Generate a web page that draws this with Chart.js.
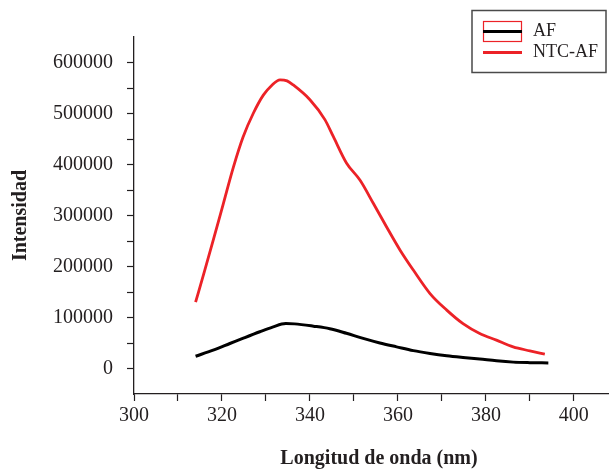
<!DOCTYPE html>
<html><head><meta charset="utf-8">
<script src="https://cdn.jsdelivr.net/npm/chart.js@4/dist/chart.umd.min.js"></script>
<style>html,body{margin:0;padding:0;background:#fff;overflow:hidden}#wrap{width:624px;height:469px;position:relative}</style>
</head><body><div id="wrap"><canvas id="c"></canvas></div>
<script>
const seriesLabels = ['AF', 'NTC-AF'];
const seriesColors = ['#000000', '#ec2227'];

const nmAF  = [314.0, 318.0, 321.8, 325.0, 328.6, 331.5, 334.5, 336.5, 340.8, 344.5, 348.3, 352.1, 355.9, 359.7, 363.5, 367.3, 371.1, 374.8, 378.6, 382.4, 386.2, 390.0, 394.2];
const intAF = [24000, 36000, 49000, 60000, 72000, 81000, 88000, 87500, 83000, 78000, 69000, 59000, 50000, 42400, 35000, 29500, 25000, 21600, 18500, 15000, 12500, 11500, 11000];

const nmNTC  = [314.0, 316.0, 318.0, 320.3, 322.6, 324.8, 327.1, 329.4, 331.3, 333.2, 334.8, 336.2, 340.0, 343.4, 345.3, 348.3, 351.4, 354.4, 357.4, 360.5, 363.5, 367.3, 371.1, 374.8, 378.6, 382.4, 386.2, 390.0, 393.4];
const intNTC = [130000, 190000, 251000, 323000, 395000, 454000, 500000, 536000, 555000, 566000, 564000, 556000, 527000, 488000, 455000, 403000, 369000, 324000, 278000, 232000, 193000, 147000, 114500, 88000, 68700, 55600, 42400, 34600, 28000];

const xTickValues = [300, 310, 320, 330, 340, 350, 360, 370, 380, 390, 400, 410];
const xLabelStep = 20;
const yTickValues = [0, 50000, 100000, 150000, 200000, 250000, 300000, 350000, 400000, 450000, 500000, 550000, 600000];
const yLabelStep = 100000;
const xTitle = 'Longitud de onda (nm)';
const yTitle = 'Intensidad';

const toPoints = (xs, ys) => xs.map((x, i) => ({x: x, y: ys[i]}));

const legendPlugin = {
  id: 'boxLegend',
  afterDraw(chart) {
    const ctx = chart.ctx;
    const ds = chart.data.datasets;
    ctx.save();
    ctx.strokeStyle = '#4a4a4a';
    ctx.lineWidth = 1.5;
    ctx.strokeRect(472, 10.5, 134, 62);
    ctx.strokeStyle = ds[1].borderColor;
    ctx.lineWidth = 1.2;
    ctx.strokeRect(483.5, 21.5, 38, 20);
    ctx.strokeStyle = ds[0].borderColor;
    ctx.lineWidth = 3;
    ctx.beginPath(); ctx.moveTo(483, 31.5); ctx.lineTo(522, 31.5); ctx.stroke();
    ctx.strokeStyle = ds[1].borderColor;
    ctx.beginPath(); ctx.moveTo(483, 52.5); ctx.lineTo(522, 52.5); ctx.stroke();
    ctx.fillStyle = '#231f20';
    ctx.font = '18px "Liberation Serif"';
    ctx.textBaseline = 'middle';
    ctx.textAlign = 'left';
    ctx.fillText(ds[0].label, 533, 31);
    ctx.fillText(ds[1].label, 533, 52);
    ctx.restore();
  }
};

const tickFont = {family: 'Liberation Serif', size: 20};
const titleFont = {family: 'Liberation Serif', size: 20, weight: 'bold'};

new Chart(document.getElementById('c'), {
  type: 'line',
  data: {
    datasets: [
      {label: seriesLabels[0], data: toPoints(nmAF, intAF), borderColor: seriesColors[0], borderWidth: 3, pointRadius: 0, tension: 0.4, cubicInterpolationMode: 'monotone', fill: false},
      {label: seriesLabels[1], data: toPoints(nmNTC, intNTC), borderColor: seriesColors[1], borderWidth: 2.8, pointRadius: 0, tension: 0.4, cubicInterpolationMode: 'monotone', fill: false}
    ]
  },
  options: {
    responsive: true,
    maintainAspectRatio: false,
    animation: false,
    devicePixelRatio: 1,
    layout: {padding: {top: 37, right: 0, left: 0, bottom: 0}},
    plugins: {legend: {display: false}, tooltip: {enabled: false}},
    scales: {
      x: {
        type: 'linear',
        min: 300, max: 411.4,
        afterBuildTicks: s => { s.ticks = xTickValues.map(v => ({value: v})); },
        afterFit: s => { s.height = 75; },
        grid: {drawOnChartArea: false, drawTicks: true, tickLength: 7, tickColor: '#231f20', tickWidth: 1.2},
        border: {display: true, color: '#231f20', width: 1.3},
        ticks: {font: tickFont, color: '#231f20', padding: 3, maxRotation: 0, autoSkip: false,
          callback: v => (v % xLabelStep === 0 ? String(v) : '')},
        title: {display: true, text: xTitle, font: titleFont, color: '#231f20', padding: {top: 0, bottom: -2}}
      },
      y: {
        type: 'linear',
        min: -50000, max: 650000,
        afterBuildTicks: s => { s.ticks = yTickValues.map(v => ({value: v})); },
        afterFit: s => { s.width = 134; },
        grid: {drawOnChartArea: false, drawTicks: true, tickLength: 7, tickColor: '#231f20', tickWidth: 1.2},
        border: {display: true, color: '#231f20', width: 1.3},
        ticks: {font: tickFont, color: '#231f20', padding: 14, autoSkip: false,
          callback: v => (v % yLabelStep === 0 ? String(v) : '')},
        title: {display: true, text: yTitle, font: titleFont, color: '#231f20', padding: {top: 9, bottom: 0}}
      }
    }
  },
  plugins: [legendPlugin]
});
</script>
</body></html>
